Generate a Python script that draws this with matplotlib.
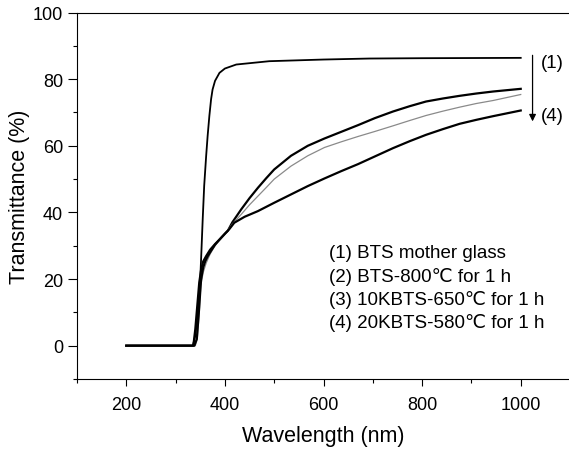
import numpy as np
import matplotlib
matplotlib.use('Agg')
import matplotlib.pyplot as plt

plt.rcParams['font.family'] = ['Liberation Sans', 'DejaVu Sans']

# (1) BTS mother glass
wl1 = [200, 335, 340, 345, 350, 352, 355, 358, 362, 365, 368.5, 372, 375, 380, 389, 400, 423, 490, 600, 693, 800, 1000]
t1 = [0, 0, 3, 10, 20, 27, 38, 48, 57, 63, 69, 74, 76.9, 79.5, 81.9, 83.2, 84.4, 85.4, 85.9, 86.2, 86.3, 86.4]

# (2) BTS-800C for 1 h
wl2 = [200, 336, 340, 344, 348, 352, 356, 362, 370, 380, 390, 400, 406, 415, 433, 450, 467, 484, 500, 534, 568, 602,
       636, 670, 704, 741, 775, 808, 842, 876, 910, 944, 1000]
t2 = [0, 0, 5, 12, 19, 23, 25.3, 26.9, 28.8, 30.5, 32, 33.6, 34.5, 37.0, 40.9, 44.3, 47.4, 50.3, 52.9, 57.0, 60.0, 62.2,
      64.2, 66.2, 68.3, 70.3, 71.9, 73.3, 74.2, 75.0, 75.7, 76.3, 77.1]

# (3) 10KBTS-650C for 1 h
wl3 = [200, 340, 344, 348, 351, 356, 362, 370, 379, 390, 402, 415, 433, 450, 467, 484, 500, 534, 568, 602, 636, 670,
       704, 741, 775, 808, 842, 876, 910, 944, 1000]
t3 = [0, 0, 2, 9.7, 18, 22, 24.8, 27.5, 29.8, 32, 33.8, 36.5, 39.4, 42.3, 44.9, 47.5, 50.0, 53.9, 57.0, 59.5, 61.2, 62.8,
      64.3, 66.0, 67.6, 69.1, 70.4, 71.6, 72.7, 73.6, 75.4]

# (4) 20KBTS-580C for 1 h
wl4 = [200, 338, 343, 347, 351.6, 356, 360, 365, 372, 380, 390, 400, 409, 419, 440, 467, 500, 534, 568, 602, 636, 670,
       704, 741, 775, 808, 842, 876, 910, 944, 1000]
t4 = [0, 0, 2, 9.7, 19.7, 23.5, 25.3, 26.8, 28.5, 30.3, 32, 33.6, 35, 36.9, 38.7, 40.4, 42.9, 45.4, 47.9, 50.2, 52.4, 54.5,
      56.8, 59.3, 61.4, 63.3, 65.0, 66.6, 67.8, 68.9, 70.6]

labels = ['(1) BTS mother glass', '(2) BTS-800\u2103 for 1 h',
          '(3) 10KBTS-650\u2103 for 1 h', '(4) 20KBTS-580\u2103 for 1 h']
label_y = [27.9, 20.8, 14.0, 7.0]

fig = plt.figure(figsize=(5.69, 4.52), dpi=100)
ax = fig.add_axes([0.1353, 0.1593, 0.8665, 0.8107])

ax.plot(wl1, t1, color='black', lw=1.3)
ax.plot(wl2, t2, color='black', lw=1.6)
ax.plot(wl3, t3, color='#8a8a8a', lw=0.9)
ax.plot(wl4, t4, color='black', lw=1.6)

ax.set_xlim(100, 1100)
ax.set_ylim(-10, 100)
ax.set_xticks([200, 400, 600, 800, 1000])
ax.set_xticks([100, 300, 500, 700, 900, 1100], minor=True)
ax.set_yticks([0, 20, 40, 60, 80, 100])
ax.set_yticks([-10, 10, 30, 50, 70, 90], minor=True)
ax.tick_params(axis='x', which='major', direction='out', length=5, width=0.8, labelsize=13, pad=7)
ax.tick_params(axis='y', which='major', direction='out', length=6.5, width=0.8, labelsize=13, pad=3.5)
ax.tick_params(which='minor', direction='out', length=3, width=0.8)
ax.tick_params(top=False, right=False)
ax.spines['right'].set_visible(False)

ax.set_xlabel('Wavelength (nm)', fontsize=15.5, labelpad=9)
ax.set_ylabel('Transmittance (%)', fontsize=15.5, labelpad=2)

for lab, y in zip(labels, label_y):
    ax.text(612, y, lab, fontsize=13.5, va='center', ha='left')

# arrow from (1) down to (4)
ax.annotate('', xy=(1024, 66.5), xytext=(1024, 88),
            arrowprops=dict(arrowstyle='-|>', color='black', lw=0.9, mutation_scale=10))
ax.text(1040, 85, '(1)', fontsize=13.5, va='center', ha='left')
ax.text(1040, 69, '(4)', fontsize=13.5, va='center', ha='left')

fig.savefig('out.png', dpi=100)
